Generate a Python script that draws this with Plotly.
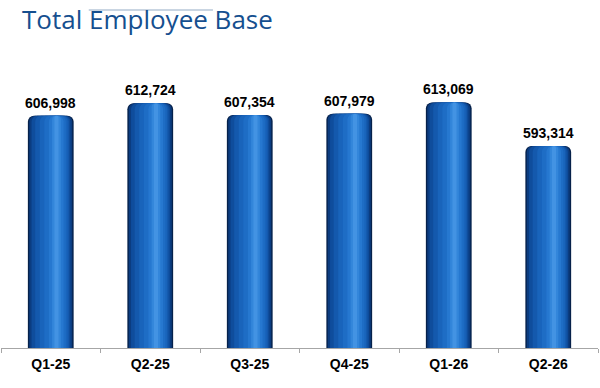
import plotly.graph_objects as go

categories = ["Q1-25", "Q2-25", "Q3-25", "Q4-25", "Q1-26", "Q2-26"]
employees = [606998, 612724, 607354, 607979, 613069, 593314]
value_labels = ["606,998", "612,724", "607,354", "607,979", "613,069", "593,314"]

BAR_W = 0.46
# gradient layers: (left fraction, right fraction, colour)
layers = [
    (0.00, 1.00, "#06214a"),
    (0.03, 0.97, "#0b3c80"),
    (0.08, 0.93, "#0f4d9c"),
    (0.16, 0.90, "#1459ad"),
    (0.26, 0.87, "#1964bb"),
    (0.36, 0.83, "#1e6dc5"),
    (0.46, 0.78, "#2678d0"),
    (0.53, 0.72, "#3386da"),
    (0.58, 0.67, "#4393e3"),
]

fig = go.Figure()
for lf, rf, col in layers:
    w = BAR_W * (rf - lf)
    off = -BAR_W / 2 + BAR_W * lf
    fig.add_trace(go.Bar(
        x=categories, y=employees, width=w, offset=off,
        marker=dict(color=col, line=dict(width=0), cornerradius=6),
        hoverinfo="skip", showlegend=False,
    ))

for c, v, t in zip(categories, employees, value_labels):
    fig.add_annotation(x=c, y=v, text=f"<b>{t}</b>", showarrow=False,
                       yanchor="bottom", yshift=3,
                       font=dict(family="Liberation Sans, Arial", size=14, color="#000000"))

fig.add_shape(type="line", xref="paper", yref="paper",
              x0=0.147, x1=0.355, y0=1.194, y1=1.194,
              line=dict(color="#c9d5e2", width=2))

fig.update_layout(
    width=600, height=388,
    margin=dict(l=1, r=2, t=65, b=40, autoexpand=False),
    barmode="overlay",
    plot_bgcolor="white", paper_bgcolor="white",
    title=dict(text="Total Employee Base", xref="container", yref="container",
               x=22 / 600, xanchor="left", y=1 - 20 / 388, yanchor="middle",
               font=dict(family="Open Sans", size=26, color="#154f8f")),
    xaxis=dict(range=[-0.5, 5.5], showline=True, linecolor="#a6a6a6", linewidth=1,
               ticks="outside", tickson="boundaries", ticklen=4, tickcolor="#a6a6a6",
               ticklabelstandoff=3,
               tickfont=dict(family="Liberation Sans, Arial", size=14, color="#000000"),
               tickprefix="<b>", ticksuffix="</b>", showgrid=False),
    yaxis=dict(range=[502000, 630000], visible=False, showgrid=False),
)

fig.write_html("out.html", config={"displayModeBar": False},
               post_script="document.body.style.margin='0';")
